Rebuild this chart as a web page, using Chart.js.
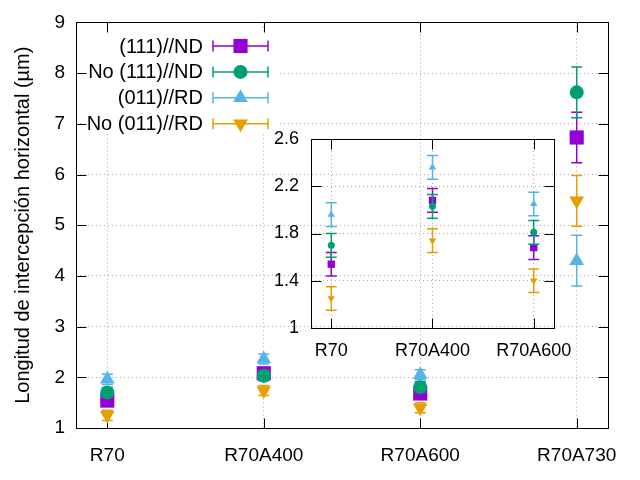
<!DOCTYPE html>
<html>
<head>
<meta charset="utf-8">
<title>Longitud de intercepción horizontal</title>
<script src="https://cdn.jsdelivr.net/npm/chart.js@4.4.1/dist/chart.umd.min.js"></script>
<style>
    html, body { margin: 0; padding: 0; background: #fff; }
    #wrap { position: relative; width: 640px; height: 480px; }
    #main { position: absolute; left: 0; top: 0; }
    #inset { position: absolute; left: 250px; top: 100px; }
</style>
</head>
<body>
<div id="wrap">
    <canvas id="main" width="640" height="480"></canvas>
    <canvas id="inset" width="380" height="290"></canvas>
</div>
<script>
// data
const categories = ['R70', 'R70A400', 'R70A600', 'R70A730'];
const seriesNames = ['(111)//ND', 'No (111)//ND', '(011)//RD', 'No (011)//RD'];

const nd111 = [1.54, 2.08, 1.68, 6.73];
const nd111Err = [0.10, 0.10, 0.10, 0.50];
const noNd111 = [1.70, 2.03, 1.81, 7.62];
const noNd111Err = [0.10, 0.10, 0.10, 0.50];
const rd011 = [1.96, 2.36, 2.05, 4.30];
const rd011Err = [0.10, 0.10, 0.10, 0.50];
const noRd011 = [1.25, 1.74, 1.40, 5.48];
const noRd011Err = [0.10, 0.10, 0.10, 0.50];

const yTicksMain = [1, 2, 3, 4, 5, 6, 7, 8, 9];
const yTicksInset = [1, 1.4, 1.8, 2.2, 2.6];
const insetCount = 3; // inset only shows the first three samples
const yTitle = 'Longitud de intercepción horizontal (µm)';

// styles
const seriesValues = [nd111, noNd111, rd011, noRd011];
const seriesErrors = [nd111Err, noNd111Err, rd011Err, noRd011Err];
const colors = ['#9400d3', '#009e73', '#56b4e9', '#e69f00'];
const markers = [
    { style: 'rect', rot: 0, big: 10, small: 5.2 },
    { style: 'circle', rot: 0, big: 7, small: 3.5 },
    { style: 'triangle', rot: 0, big: 8.5, small: 4.3 },
    { style: 'triangle', rot: 180, big: 8.5, small: 4.3 }
];
const FONT = 'Liberation Sans, Arial, sans-serif';
const gridColor = '#a8a8a8';

function drawMarker(ctx, m, r, x, y) {
    ctx.beginPath();
    if (m.style === 'rect') {
        const s = r * Math.SQRT1_2;
        ctx.rect(x - s, y - s, 2 * s, 2 * s);
    } else if (m.style === 'circle') {
        ctx.arc(x, y, r, 0, Math.PI * 2);
    } else {
        let rad = m.rot * Math.PI / 180;
        for (let k = 0; k < 3; k++) {
            const px = x + Math.sin(rad) * r, py = y - Math.cos(rad) * r;
            k === 0 ? ctx.moveTo(px, py) : ctx.lineTo(px, py);
            rad += 2 * Math.PI / 3;
        }
        ctx.closePath();
    }
    ctx.fill();
}

function buildDatasets(count, big) {
    return seriesNames.map((name, i) => ({
        label: name,
        data: seriesValues[i].slice(0, count).map((v, k) => ({ x: k, y: v })),
        errors: seriesErrors[i].slice(0, count),
        showLine: false,
        pointStyle: markers[i].style,
        rotation: markers[i].rot,
        pointRadius: big ? markers[i].big : markers[i].small,
        pointHoverRadius: big ? markers[i].big : markers[i].small,
        pointBorderWidth: 0,
        backgroundColor: colors[i],
        borderColor: colors[i],
        order: 3 - i,
        clip: false
    }));
}

// vertical error bars with caps, drawn under each series' markers
const errorBars = {
    id: 'errorBars',
    beforeDatasetDraw(chart, args, opts) {
        const ds = chart.data.datasets[args.index];
        const yScale = chart.scales.y;
        const ctx = chart.ctx;
        const cap = opts.cap || 5.5;
        ctx.save();
        ctx.strokeStyle = ds.borderColor;
        ctx.lineWidth = opts.width || 1.5;
        args.meta.data.forEach((pt, k) => {
            const v = ds.data[k].y, e = ds.errors[k];
            const yTop = yScale.getPixelForValue(v + e);
            const yBot = yScale.getPixelForValue(v - e);
            ctx.beginPath();
            ctx.moveTo(pt.x, yTop); ctx.lineTo(pt.x, yBot);
            ctx.moveTo(pt.x - cap, yTop); ctx.lineTo(pt.x + cap, yTop);
            ctx.moveTo(pt.x - cap, yBot); ctx.lineTo(pt.x + cap, yBot);
            ctx.stroke();
        });
        ctx.restore();
    }
};

// box round the plot with inward ticks on all four sides (gnuplot style)
const frame = {
    id: 'frame',
    beforeDatasetsDraw(chart, args, opts) {
        const { ctx, chartArea: a, scales } = chart;
        ctx.save();
        if (opts.keyBox) {
            ctx.fillStyle = '#fff';
            ctx.fillRect(...opts.keyBox);
        }
        ctx.strokeStyle = '#000';
        ctx.lineWidth = 1;
        const L = opts.tick || 10;
        const l = Math.round(a.left) + 0.5, r = Math.round(a.right) + 0.5;
        const t = Math.round(a.top) + 0.5, b = Math.round(a.bottom) + 0.5;
        ctx.beginPath();
        scales.x.ticks.forEach(tk => {
            const px = Math.round(scales.x.getPixelForValue(tk.value)) + 0.5;
            ctx.moveTo(px, b); ctx.lineTo(px, b - L);
            ctx.moveTo(px, t); ctx.lineTo(px, t + L);
        });
        scales.y.ticks.forEach(tk => {
            const py = Math.round(scales.y.getPixelForValue(tk.value)) + 0.5;
            ctx.moveTo(l, py); ctx.lineTo(l + L, py);
            ctx.moveTo(r, py); ctx.lineTo(r - L, py);
        });
        ctx.stroke();
        ctx.strokeRect(l, t, r - l, b - t);
        ctx.restore();
    }
};

// gnuplot-like key: text right aligned, sample with error bar and marker
const key = {
    id: 'key',
    afterDatasetsDraw(chart, args, opts) {
        const ctx = chart.ctx;
        ctx.save();
        ctx.font = opts.fontSize + 'px ' + FONT;
        ctx.textAlign = 'right';
        ctx.textBaseline = 'middle';
        seriesNames.forEach((name, i) => {
            const y = opts.y + i * opts.step;
            ctx.fillStyle = '#000';
            ctx.fillText(name, opts.textRight, y + 1);
            ctx.strokeStyle = colors[i];
            ctx.lineWidth = 1.5;
            ctx.beginPath();
            ctx.moveTo(opts.x0, y); ctx.lineTo(opts.x1, y);
            ctx.moveTo(opts.x0, y - 5.5); ctx.lineTo(opts.x0, y + 5.5);
            ctx.moveTo(opts.x1, y - 5.5); ctx.lineTo(opts.x1, y + 5.5);
            ctx.stroke();
            ctx.fillStyle = colors[i];
            drawMarker(ctx, markers[i], markers[i].big, (opts.x0 + opts.x1) / 2, y);
        });
        ctx.restore();
    }
};

function axisX(labels, min, max, size, pad, height) {
    return {
        type: 'linear', min: min, max: max,
        afterBuildTicks: s => { s.ticks = labels.map((c, i) => ({ value: i })); },
        afterFit: s => { s.height = height; },
        ticks: {
            callback: v => labels[Math.round(v)],
            font: { family: FONT, size: size }, color: '#000',
            padding: pad, maxRotation: 0, autoSkip: false
        },
        grid: { color: gridColor, lineWidth: 1, drawTicks: false },
        border: { display: false, dash: [1, 3] }
    };
}

function axisY(tickValues, size, pad, width) {
    return {
        type: 'linear', min: tickValues[0], max: tickValues[tickValues.length - 1],
        afterBuildTicks: s => { s.ticks = tickValues.map(v => ({ value: v })); },
        afterFit: s => { s.width = width; },
        ticks: {
            callback: v => String(Math.round(v * 10) / 10),
            font: { family: FONT, size: size }, color: '#000', padding: pad
        },
        grid: { color: gridColor, lineWidth: 1, drawTicks: false },
        border: { display: false, dash: [1, 3] }
    };
}

const mainY = axisY(yTicksMain, 19, 11, 76);
mainY.title = {
    display: true, text: yTitle, color: '#000',
    font: { family: FONT, size: 20 }, padding: { top: 11, bottom: 0 }
};

new Chart(document.getElementById('main'), {
    type: 'scatter',
    data: { datasets: buildDatasets(categories.length, true) },
    options: {
        responsive: false,
        animation: false,
        devicePixelRatio: 1,
        events: [],
        layout: { padding: { left: 0, top: 22, right: 32, bottom: 0 } },
        scales: {
            x: axisX(categories, -0.2, 3.2, 19, 16, 52),
            y: mainY
        },
        plugins: {
            legend: { display: false },
            tooltip: { enabled: false },
            errorBars: { cap: 5.5, width: 1.5 },
            frame: { tick: 10, keyBox: [84, 31, 195, 103] },
            key: { fontSize: 20, y: 46, step: 25.9, textRight: 203, x0: 213, x1: 268 }
        }
    },
    plugins: [errorBars, frame, key]
});

// inset: plot box at page x 311..554, y 139..328
new Chart(document.getElementById('inset'), {
    type: 'scatter',
    data: { datasets: buildDatasets(insetCount, false) },
    options: {
        responsive: false,
        animation: false,
        devicePixelRatio: 1,
        events: [],
        layout: { padding: { left: 0, top: 39, right: 76, bottom: 0 } },
        scales: {
            x: axisX(categories.slice(0, insetCount), -0.2, 2.2, 18, 12, 62),
            y: axisY(yTicksInset, 18, 12, 61)
        },
        plugins: {
            legend: { display: false },
            tooltip: { enabled: false },
            errorBars: { cap: 5.5, width: 1.5 },
            frame: { tick: 10 }
        }
    },
    plugins: [errorBars, frame]
});
</script>
</body>
</html>
